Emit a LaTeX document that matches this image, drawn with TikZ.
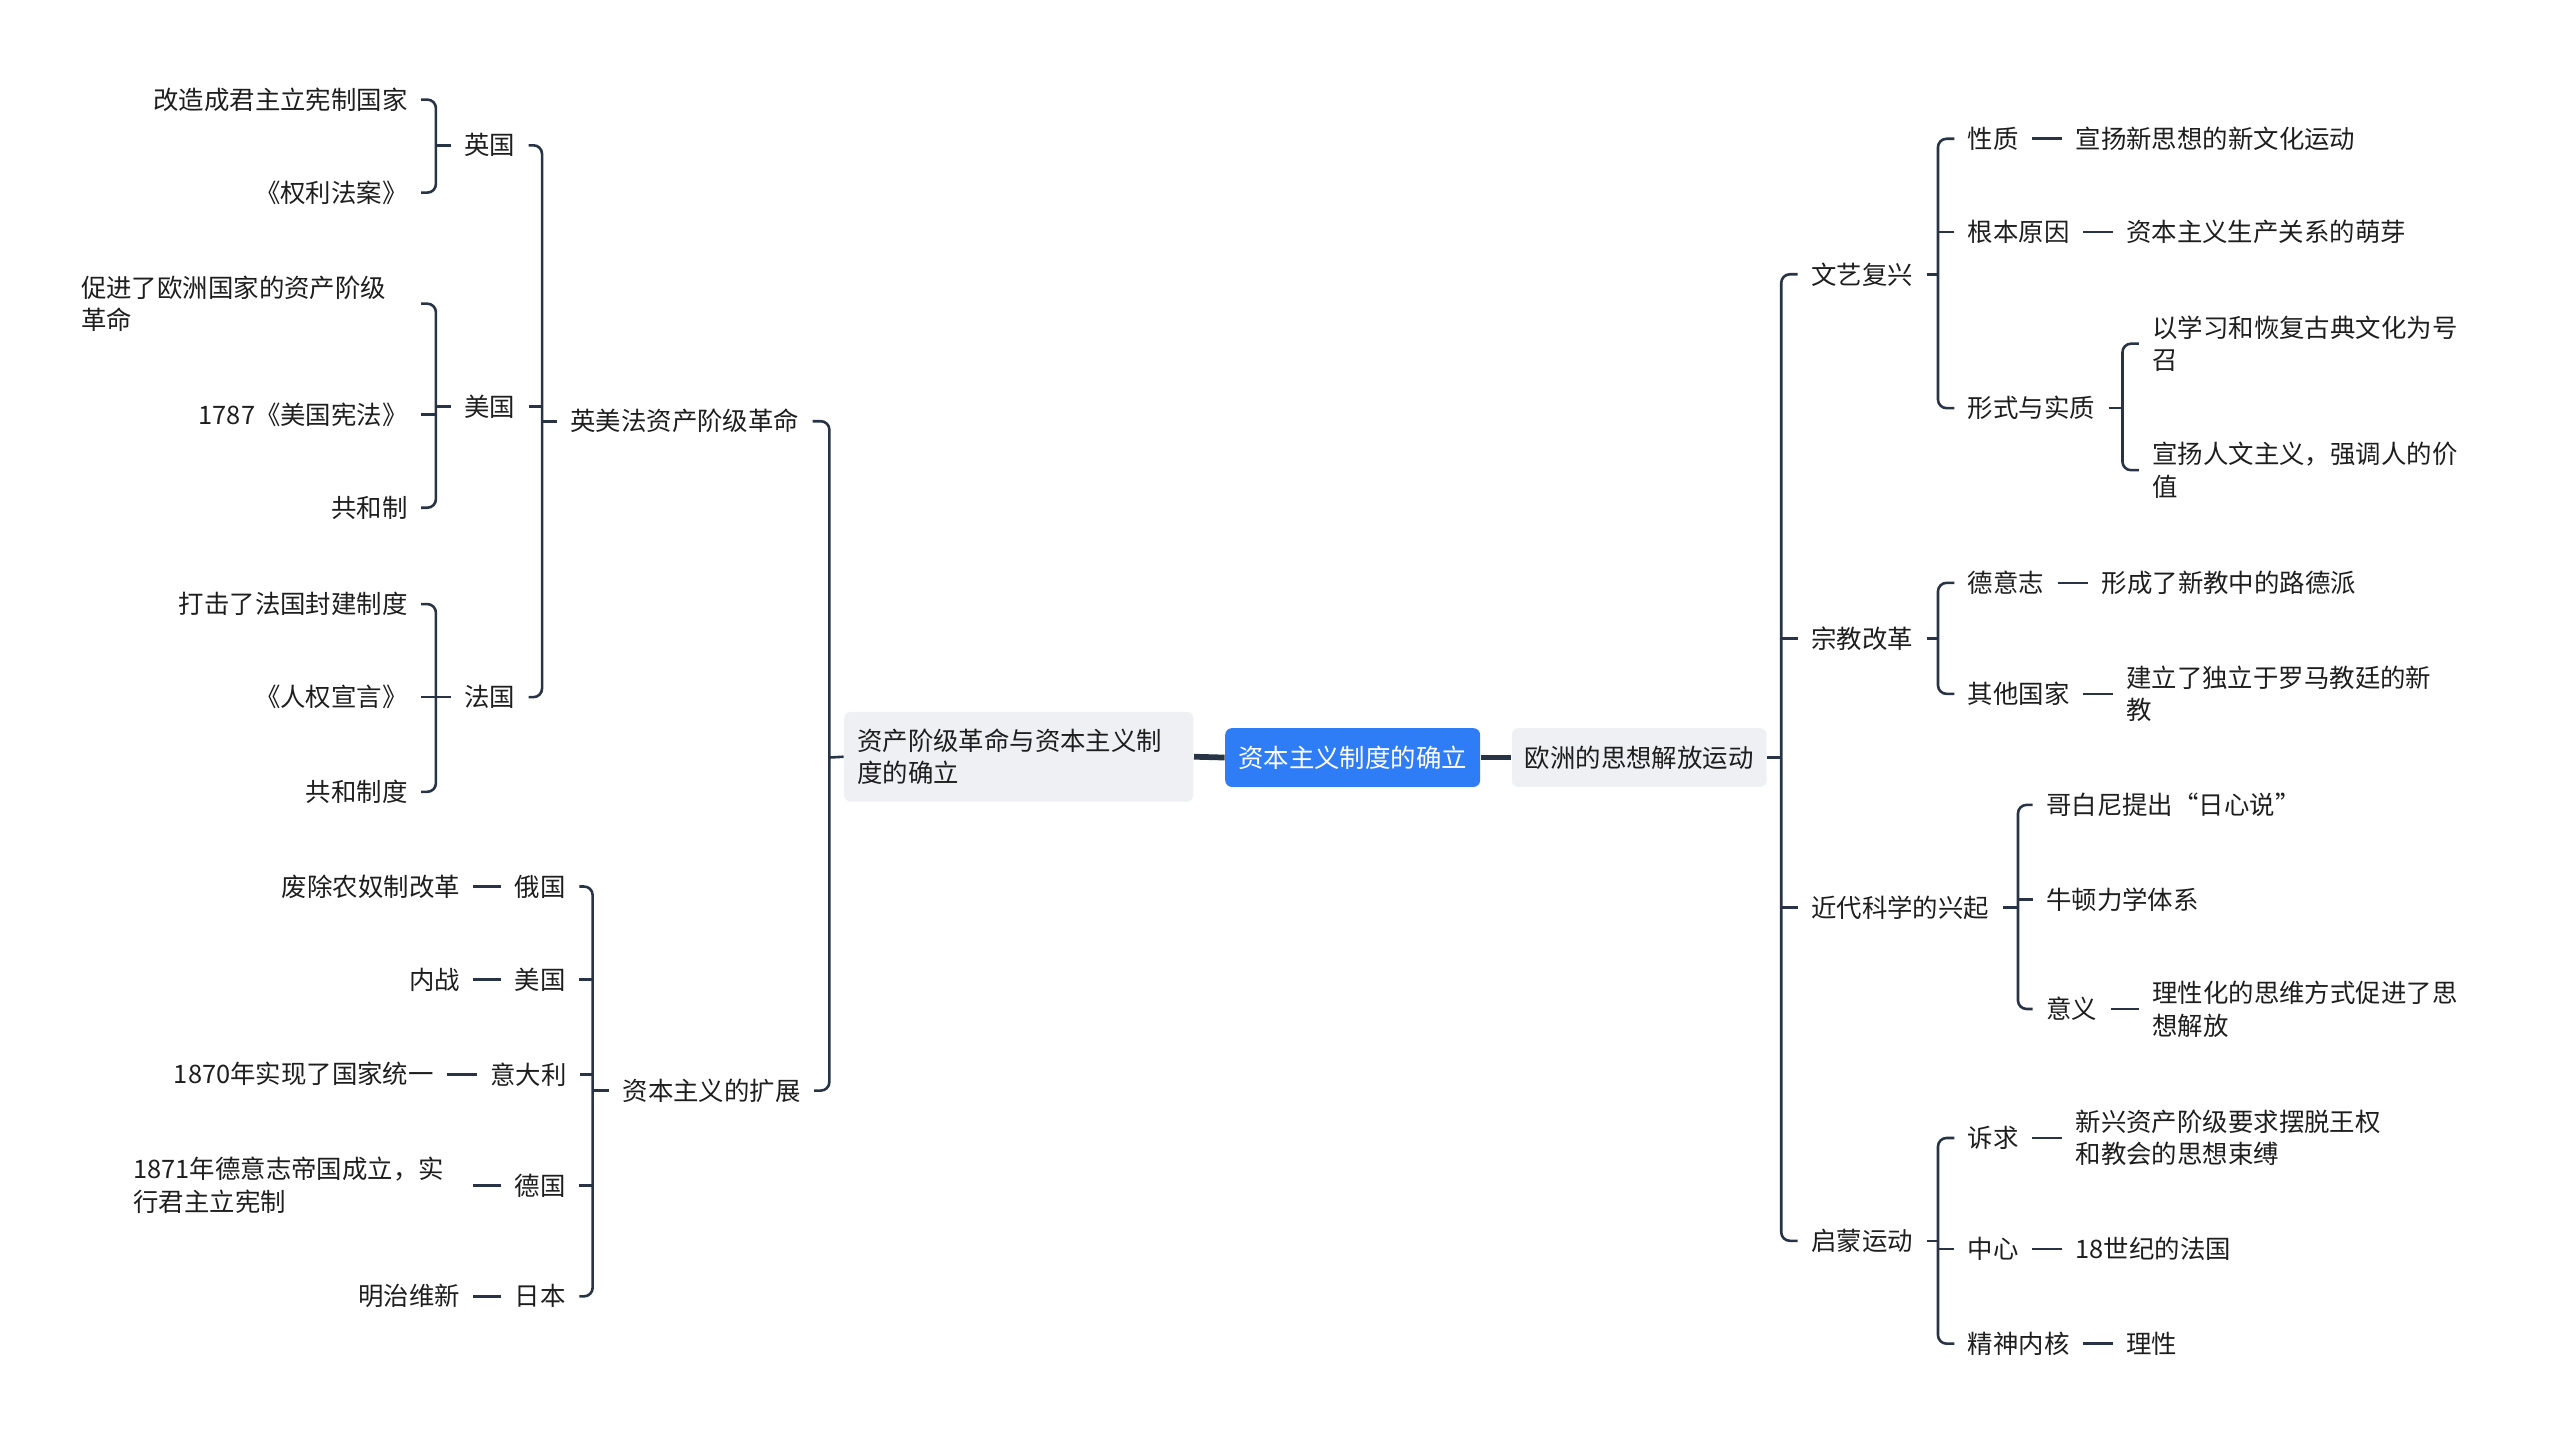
\documentclass[tikz,border=0pt]{standalone}
\usepackage{fontspec}
\newfontfamily\cjk{Noto Sans CJK SC}
\definecolor{linkc}{RGB}{40,52,70}
\definecolor{textc}{RGB}{30,30,30}
\definecolor{boxc}{RGB}{238,240,243}
\definecolor{rootc}{RGB}{47,125,246}
\tikzset{
  txt/.style={font=\cjk\fontsize{8.86pt}{11.4pt}\selectfont, text=textc, inner xsep=0.16cm, inner ysep=0pt},
  wrap/.style={txt, text width=4cm, align=left},
  mainbox/.style={txt, fill=boxc, rounded corners=2.3pt, minimum height=0.72cm},
  rootbox/.style={mainbox, fill=rootc, text=white},
  link/.style={draw=linkc, line width=0.9pt, rounded corners=3pt},
  rootlink/.style={draw=linkc, line width=2pt}
}
\begin{document}
\begin{tikzpicture}[x=0.02cm, y=-0.02cm]
    \useasboundingbox (0,0) rectangle (1568,884);

    % ==================== TRUNG TÂM ====================
    \node[rootbox] (root) at (828.5,464) {资本主义制度的确立};
    \node[mainbox, text width=3.96cm, align=left, minimum height=1.1cm] (gm) at (624,463.5) {资产阶级革命与资本主义制\\度的确立};
    \node[mainbox] (sx) at (1004,464) {欧洲的思想解放运动};
    \draw[rootlink] (gm.east) -- (root.west);
    \draw[rootlink] (root.east) -- (sx.west);

    % ==================== NHÁNH TRÁI ====================
    \node[txt, anchor=west] (ymf) at (341,258) {英美法资产阶级革命};
    \node[txt, anchor=west] (kz) at (373,668) {资本主义的扩展};
    \coordinate (b0) at (508,464);
    \draw[link] (gm.west) -- (b0);
    \draw[link] (ymf.east) -| (b0) |- (kz.east);

    % Anh
    \node[txt, anchor=west] (yg) at (276,89) {英国};
    \node[txt, anchor=east] (yg1) at (258,61) {改造成君主立宪制国家};
    \node[txt, anchor=east] (yg2) at (258,118) {《权利法案》};
    \coordinate (b1) at (267,89);
    \draw[link] (yg.west) -- (b1);
    \draw[link] (yg1.east) -| (b1) |- (yg2.east);

    % Mỹ
    \node[txt, anchor=west] (mg) at (276,249) {美国};
    \node[wrap, anchor=east] (mg1) at (258,186) {促进了欧洲国家的资产阶级\\革命};
    \node[txt, anchor=east] (mg2) at (258,254) {1787《美国宪法》};
    \node[txt, anchor=east] (mg3) at (258,311) {共和制};
    \coordinate (b2) at (267,249);
    \draw[link] (mg.west) -- (b2);
    \draw[link] (mg1.east) -| (b2) |- (mg3.east);
    \draw[link] (mg2.east) -- (mg2.east -| b2);

    % Pháp
    \node[txt, anchor=west] (fg) at (276,427) {法国};
    \node[txt, anchor=east] (fg1) at (258,370) {打击了法国封建制度};
    \node[txt, anchor=east] (fg2) at (258,427) {《人权宣言》};
    \node[txt, anchor=east] (fg3) at (258,485) {共和制度};
    \coordinate (b3) at (267,427);
    \draw[link] (fg.west) -- (b3);
    \draw[link] (fg1.east) -| (b3) |- (fg3.east);
    \draw[link] (fg2.east) -- (b3);

    % Anh - Mỹ - Pháp nối vào nhánh
    \coordinate (b4) at (332,258);
    \draw[link] (ymf.west) -- (b4);
    \draw[link] (yg.east) -| (b4) |- (fg.east);
    \draw[link] (mg.east) -- (mg.east -| b4);

    % Mở rộng của chủ nghĩa tư bản
    \node[txt, anchor=west] (eg) at (307,543) {俄国};
    \node[txt, anchor=west] (mg4) at (307,600) {美国};
    \node[txt, anchor=west] (ydl) at (292,658) {意大利};
    \node[txt, anchor=west] (dg) at (307,726) {德国};
    \node[txt, anchor=west] (rb) at (307,794) {日本};
    \node[txt, anchor=east] (eg1) at (290,543) {废除农奴制改革};
    \node[txt, anchor=east] (mg5) at (290,600) {内战};
    \node[txt, anchor=east] (ydl1) at (274,658) {1870年实现了国家统一};
    \node[wrap, anchor=east] (dg1) at (290,726) {1871年德意志帝国成立，实\\行君主立宪制};
    \node[txt, anchor=east] (rb1) at (290,794) {明治维新};
    \foreach \a/\b in {eg/eg1, mg4/mg5, ydl/ydl1, dg/dg1, rb/rb1}
        \draw[link] (\a.west) -- (\b.east);
    \coordinate (b5) at (363,668);
    \draw[link] (kz.west) -- (b5);
    \draw[link] (eg.east) -| (b5) |- (rb.east);
    \foreach \a in {mg4, ydl, dg}
        \draw[link] (\a.east) -- (\a.east -| b5);

    % ==================== NHÁNH PHẢI ====================
    \node[txt, anchor=west] (wy) at (1101,168) {文艺复兴};
    \node[txt, anchor=west] (zj) at (1101,391) {宗教改革};
    \node[txt, anchor=west] (kx) at (1101,556) {近代科学的兴起};
    \node[txt, anchor=west] (qm) at (1101,760) {启蒙运动};
    \coordinate (c0) at (1091,464);
    \draw[link] (sx.east) -- (c0);
    \draw[link] (wy.west) -| (c0) |- (qm.west);
    \foreach \a in {zj, kx}
        \draw[link] (\a.west) -- (\a.west -| c0);

    % Phục hưng
    \node[txt, anchor=west] (xz) at (1197,85) {性质};
    \node[txt, anchor=west] (xz1) at (1263,85) {宣扬新思想的新文化运动};
    \node[txt, anchor=west] (gb) at (1197,142) {根本原因};
    \node[txt, anchor=west] (gb1) at (1294,142) {资本主义生产关系的萌芽};
    \node[txt, anchor=west] (xs) at (1197,250) {形式与实质};
    \node[wrap, anchor=west] (xs1) at (1310,210.5) {以学习和恢复古典文化为号\\召};
    \node[wrap, anchor=west] (xs2) at (1310,288) {宣扬人文主义，强调人的价\\值};
    \draw[link] (xz.east) -- (xz1.west);
    \draw[link] (gb.east) -- (gb1.west);
    \coordinate (c1) at (1187,168);
    \draw[link] (wy.east) -- (c1);
    \draw[link] (xz.west) -| (c1) |- (xs.west);
    \draw[link] (gb.west) -- (gb.west -| c1);
    \coordinate (c2) at (1300,250);
    \draw[link] (xs.east) -- (c2);
    \draw[link] (xs1.west) -| (c2) |- (xs2.west);

    % Cải cách tôn giáo
    \node[txt, anchor=west] (dy) at (1197,357) {德意志};
    \node[txt, anchor=west] (dy1) at (1279,357) {形成了新教中的路德派};
    \node[txt, anchor=west] (qt) at (1197,425) {其他国家};
    \node[wrap, anchor=west] (qt1) at (1294,425) {建立了独立于罗马教廷的新\\教};
    \draw[link] (dy.east) -- (dy1.west);
    \draw[link] (qt.east) -- (qt1.west);
    \coordinate (c3) at (1187,391);
    \draw[link] (zj.east) -- (c3);
    \draw[link] (dy.west) -| (c3) |- (qt.west);

    % Khoa học cận đại
    \node[txt, anchor=west] (gbn) at (1245,493) {哥白尼提出“日心说”};
    \node[txt, anchor=west] (nd) at (1245,551) {牛顿力学体系};
    \node[txt, anchor=west] (yy) at (1245,618) {意义};
    \node[wrap, anchor=west] (yy1) at (1310,618) {理性化的思维方式促进了思\\想解放};
    \draw[link] (yy.east) -- (yy1.west);
    \coordinate (c4) at (1236,556);
    \draw[link] (kx.east) -- (c4);
    \draw[link] (gbn.west) -| (c4) |- (yy.west);
    \draw[link] (nd.west) -- (nd.west -| c4);

    % Khai sáng
    \node[txt, anchor=west] (sq) at (1197,697) {诉求};
    \node[wrap, anchor=west] (sq1) at (1263,697) {新兴资产阶级要求摆脱王权\\和教会的思想束缚};
    \node[txt, anchor=west] (zx) at (1197,765) {中心};
    \node[txt, anchor=west] (zx1) at (1263,765) {18世纪的法国};
    \node[txt, anchor=west] (js) at (1197,823) {精神内核};
    \node[txt, anchor=west] (js1) at (1294,823) {理性};
    \foreach \a/\b in {sq/sq1, zx/zx1, js/js1}
        \draw[link] (\a.east) -- (\b.west);
    \coordinate (c5) at (1187,760);
    \draw[link] (qm.east) -- (c5);
    \draw[link] (sq.west) -| (c5) |- (js.west);
    \draw[link] (zx.west) -- (zx.west -| c5);
\end{tikzpicture}
\end{document}
